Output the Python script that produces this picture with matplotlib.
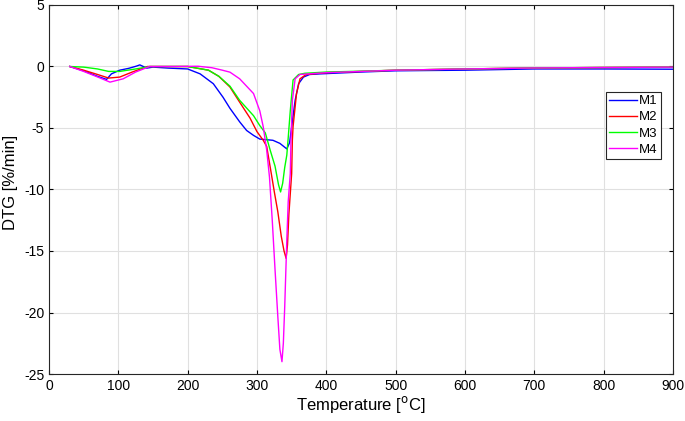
import matplotlib.pyplot as plt

plt.rcParams['font.family'] = ['Liberation Sans', 'DejaVu Sans']
plt.rcParams['axes.unicode_minus'] = False

# Temperature [°C] and DTG [%/min]
t_m1 = [30, 50, 70, 83, 90, 102, 115, 126, 131, 141, 150, 172, 200, 218, 237, 251, 261,
        275, 285, 295, 304, 323, 333, 343, 347, 350, 355, 360, 367, 376, 391,
        450, 500, 600, 700, 800, 900]
dtg_m1 = [0.0, -0.35, -0.8, -1.05, -0.6, -0.3, -0.15, 0.03, 0.13, -0.13, -0.05, -0.13,
          -0.2, -0.6, -1.4, -2.5, -3.4, -4.5, -5.2, -5.6, -5.9, -6.0, -6.25, -6.7,
          -6.2, -4.9, -2.75, -1.4, -0.86, -0.65, -0.6, -0.45, -0.35, -0.3, -0.2,
          -0.2, -0.22]

t_m2 = [30, 50, 70, 86, 102, 120, 142, 170, 200, 230, 245, 261, 275, 290, 300, 309,
        314, 320, 325, 330, 335, 339, 342, 344, 346, 350, 351, 352, 357, 362, 371,
        400, 450, 500, 600, 700, 800, 900]
dtg_m2 = [0.0, -0.3, -0.65, -0.94, -0.86, -0.45, 0.0, 0.0, 0.0, -0.3, -0.8, -1.67,
          -2.9, -4.2, -5.3, -6.0, -6.5, -8.5, -10.2, -11.8, -13.8, -15.0, -15.6,
          -14.5, -12.0, -8.7, -6.0, -4.9, -2.2, -1.0, -0.65, -0.5, -0.4, -0.3, -0.2,
          -0.12, -0.08, -0.05]

t_m3 = [30, 50, 70, 86, 102, 125, 146, 170, 200, 230, 245, 261, 275, 295, 304, 312,
        319, 326, 331, 334, 337, 340, 343, 345, 348, 352, 360, 369, 400, 450, 500,
        600, 700, 800, 900]
dtg_m3 = [0.0, -0.05, -0.2, -0.4, -0.4, -0.2, 0.0, 0.0, 0.0, -0.3, -0.8, -1.6, -2.75,
          -4.0, -4.8, -5.4, -6.8, -8.1, -9.6, -10.2, -9.5, -8.2, -7.2, -5.8, -3.6,
          -1.1, -0.65, -0.55, -0.45, -0.38, -0.3, -0.2, -0.12, -0.08, -0.05]

t_m4 = [30, 50, 70, 88, 107, 125, 145, 180, 215, 235, 250, 261, 275, 285, 295, 304,
        309, 314, 318, 322, 326, 330, 333, 336, 338, 340, 343, 345, 348, 349, 351,
        355, 362, 400, 450, 500, 600, 700, 800, 900]
dtg_m4 = [0.0, -0.4, -0.85, -1.27, -1.0, -0.45, 0.0, 0.0, 0.02, -0.1, -0.3, -0.46,
          -1.0, -1.6, -2.2, -3.6, -4.9, -6.8, -9.0, -12.5, -16.5, -20.3, -23.0, -24.0,
          -22.5, -19.5, -14.1, -11.0, -8.7, -6.0, -2.75, -1.0, -0.65, -0.5, -0.4,
          -0.3, -0.2, -0.12, -0.08, -0.05]

series = [('M1', t_m1, dtg_m1, '#0000ff'),
          ('M2', t_m2, dtg_m2, '#ff0000'),
          ('M3', t_m3, dtg_m3, '#00ff00'),
          ('M4', t_m4, dtg_m4, '#ff00ff')]

fig = plt.figure(figsize=(6.85, 4.21), dpi=100)
ax = fig.add_axes([49 / 685, 1 - 374 / 421, 624 / 685, 369 / 421])

for nome, t, d, col in series:
    ax.plot(t, d, color=col, linewidth=1.0, label=nome)

ax.set_xlim(0, 900)
ax.set_ylim(-25, 5)
ax.set_xticks(range(0, 901, 100))
ax.set_yticks(range(-25, 6, 5))
ax.grid(True, color='#e0e0e0', linewidth=0.8)
ax.tick_params(direction='in', top=True, right=True, labelsize=10, length=3)
for s in ax.spines.values():
    s.set_color('#262626')
    s.set_linewidth(0.8)

ax.set_xlabel('Temperature [$^{\\mathrm{o}}$C]', fontsize=12, labelpad=1)
ax.set_ylabel('DTG [%/min]', fontsize=12)
ax.yaxis.set_label_coords(-0.05, 0.52)

leg = ax.legend(loc='upper right', bbox_to_anchor=(0.98, 0.765), fontsize=9.5,
                fancybox=False, framealpha=1, edgecolor='#262626',
                handlelength=2.1, handletextpad=0.15, borderpad=0.25, labelspacing=0.3,
                borderaxespad=0)
leg.get_frame().set_linewidth(0.8)

fig.savefig('out.png', dpi=100)
